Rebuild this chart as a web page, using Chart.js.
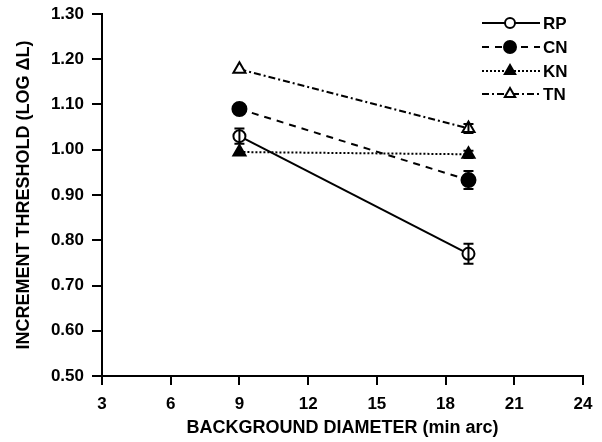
<!DOCTYPE html>
<html>
<head>
<meta charset="utf-8">
<script src="https://cdn.jsdelivr.net/npm/chart.js@4.4.0/dist/chart.umd.min.js"></script>
<style>
  html, body { margin: 0; padding: 0; background: #fff; }
  #wrap { width: 602px; height: 442px; }
</style>
</head>
<body>
<div id="wrap"><canvas id="chart" width="602" height="442"></canvas></div>
<script>
// données
const diameters = [9, 19];
const rpValues = [1.03, 0.77];
const rpErrors = [0.017, 0.022];
const cnValues = [1.09, 0.933];
const cnErrors = [0, 0.02];
const knValues = [0.995, 0.99];
const knErrors = [0, 0.008];
const tnValues = [1.178, 1.047];
const tnErrors = [0, 0.01];
const seriesNames = ['RP', 'CN', 'KN', 'TN'];
const xTicks = [3, 6, 9, 12, 15, 18, 21, 24];
const yTicks = [0.5, 0.6, 0.7, 0.8, 0.9, 1.0, 1.1, 1.2, 1.3];

const FONT = 'Liberation Sans, Arial, sans-serif';

function pts(values) {
    return diameters.map((x, i) => ({ x: x, y: values[i] }));
}

const styles = [
    { dash: [], point: 'circle', fill: '#fff', radius: 6 },
    { dash: [7, 6], point: 'circle', fill: '#000', radius: 7 },
    { dash: [2, 2], point: 'triangle', fill: '#000', radius: 7 },
    { dash: [7, 3, 2, 3], point: 'triangle', fill: '#fff', radius: 7 }
];
const allValues = [rpValues, cnValues, knValues, tnValues];
const allErrors = [rpErrors, cnErrors, knErrors, tnErrors];

const datasets = allValues.map((vals, i) => ({
    label: seriesNames[i],
    data: pts(vals),
    errors: allErrors[i],
    borderColor: '#000',
    borderWidth: 2,
    borderDash: styles[i].dash,
    pointStyle: styles[i].point,
    pointRadius: styles[i].radius,
    pointBackgroundColor: styles[i].fill,
    pointBorderColor: '#000',
    pointBorderWidth: 2,
    fill: false,
    tension: 0
}));

// barres d'erreur
const errorBars = {
    id: 'errorBars',
    afterDatasetsDraw(chart) {
        const ctx = chart.ctx;
        const ys = chart.scales.y;
        ctx.save();
        ctx.strokeStyle = '#000';
        ctx.lineWidth = 2;
        ctx.setLineDash([]);
        chart.data.datasets.forEach((ds, di) => {
            const meta = chart.getDatasetMeta(di);
            meta.data.forEach((pt, i) => {
                const e = ds.errors[i];
                if (!e) return;
                const top = ys.getPixelForValue(ds.data[i].y + e);
                const bot = ys.getPixelForValue(ds.data[i].y - e);
                ctx.beginPath();
                ctx.moveTo(pt.x, top); ctx.lineTo(pt.x, bot);
                ctx.moveTo(pt.x - 5, top); ctx.lineTo(pt.x + 5, top);
                ctx.moveTo(pt.x - 5, bot); ctx.lineTo(pt.x + 5, bot);
                ctx.stroke();
            });
        });
        ctx.restore();
    }
};

// légende dessinée à la main (ligne + symbole)
const lineLegend = {
    id: 'lineLegend',
    afterDraw(chart) {
        const ctx = chart.ctx;
        const x0 = 482, x1 = 540, rowY = [23, 47, 71, 94];
        ctx.save();
        chart.data.datasets.forEach((ds, i) => {
            const y = rowY[i];
            ctx.strokeStyle = '#000';
            ctx.lineWidth = 2;
            ctx.setLineDash(styles[i].dash);
            ctx.beginPath();
            ctx.moveTo(x0, y); ctx.lineTo(x1, y);
            ctx.stroke();
            ctx.setLineDash([]);
            ctx.fillStyle = styles[i].fill;
            Chart.helpers.drawPoint(ctx, {
                pointStyle: styles[i].point,
                radius: styles[i].radius - 1,
                borderWidth: 2,
                rotation: 0
            }, (x0 + x1) / 2 - 1, y);
            ctx.fillStyle = '#000';
            ctx.font = 'bold 17px ' + FONT;
            ctx.textBaseline = 'middle';
            ctx.textAlign = 'left';
            ctx.fillText(ds.label, x1 + 3, y + 1);
        });
        ctx.restore();
    }
};

new Chart(document.getElementById('chart').getContext('2d'), {
    type: 'line',
    data: { datasets: datasets },
    plugins: [errorBars, lineLegend],
    options: {
        responsive: false,
        animation: false,
        layout: { padding: { top: 14, right: 19, bottom: 0, left: 9 } },
        plugins: {
            legend: { display: false },
            tooltip: { enabled: false }
        },
        scales: {
            x: {
                type: 'linear',
                min: 3, max: 24,
                afterBuildTicks: s => { s.ticks = xTicks.map(v => ({ value: v })); },
                afterFit: s => { s.height = 66; },
                border: { display: true, color: '#000', width: 2 },
                grid: { drawOnChartArea: false, drawTicks: true, tickLength: 9, color: '#000', lineWidth: 2 },
                ticks: { color: '#000', font: { family: FONT, size: 17, weight: 'bold' }, padding: 9, maxRotation: 0 },
                title: { display: true, text: 'BACKGROUND DIAMETER (min arc)', color: '#000', font: { family: FONT, size: 18, weight: 'bold' }, padding: { top: 6, bottom: 3 } }
            },
            y: {
                type: 'linear',
                min: 0.5, max: 1.3,
                afterBuildTicks: s => { s.ticks = yTicks.map(v => ({ value: v })); },
                afterFit: s => { s.width = 93; s.paddingTop = 0; s.paddingBottom = 0; },
                border: { display: true, color: '#000', width: 2 },
                grid: { drawOnChartArea: false, drawTicks: true, tickLength: 10, color: '#000', lineWidth: 2 },
                ticks: { color: '#000', font: { family: FONT, size: 17, weight: 'bold' }, padding: 8, callback: v => v.toFixed(2) },
                title: { display: true, text: 'INCREMENT THRESHOLD (LOG \u0394L)', color: '#000', font: { family: FONT, size: 18, weight: 'bold' }, padding: { bottom: 4 } }
            }
        }
    }
});
</script>
</body>
</html>
